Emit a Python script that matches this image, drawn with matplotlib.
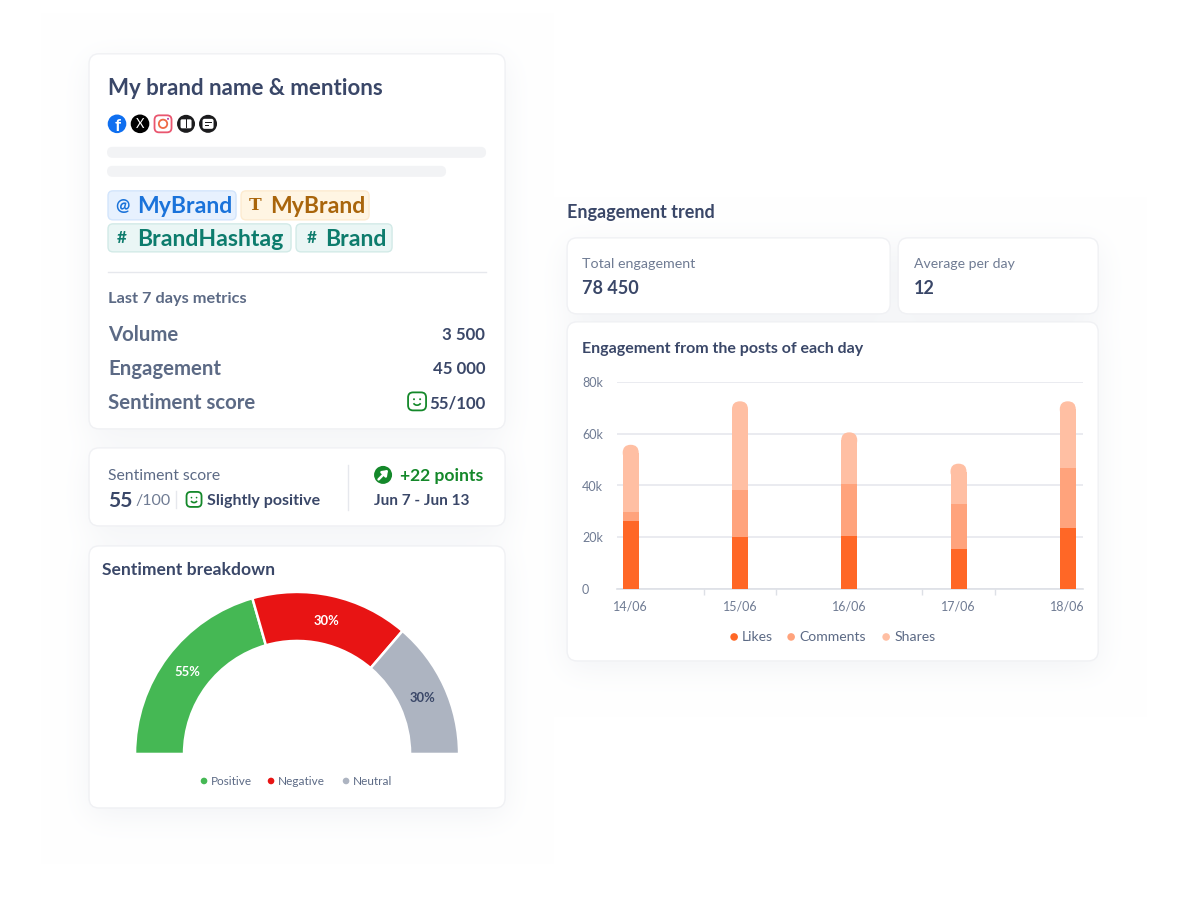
import numpy as np
import matplotlib
matplotlib.use("Agg")
import matplotlib.pyplot as plt
from matplotlib.patches import FancyBboxPatch, Wedge, Circle, Arc, Rectangle

# --- data ---
days = ["14/06", "15/06", "16/06", "17/06", "18/06"]
likes = [26.1, 20.0, 20.5, 15.6, 23.5]
comments = [3.6, 18.3, 20.1, 17.4, 23.1]
shares = [26.0, 34.2, 19.9, 15.4, 25.9]
y_ticks = [0, 20, 40, 60, 80]
y_labels = ["0", "20k", "40k", "60k", "80k"]

sent_names = ["Positive", "Negative", "Neutral"]
sent_arc = [74.0, 56.6, 49.4]  # degrees of the half circle
sent_labels = ["55%", "30%", "30%"]

metric_names = ["Volume", "Engagement", "Sentiment score"]
metric_values = ["3 500", "45 000", "55/100"]

NAVY = "#3A4768"
SLATE = "#5C6A85"
GREY = "#6F7B93"
LINE = "#E6E8ED"
ORANGES = ["#FF6726", "#FFA37C", "#FFBFA3"]
SENT_COLORS = ["#45B854", "#E81414", "#ADB4C1"]
GREEN = "#14882A"

W, H = 1200, 903
plt.rcParams["font.family"] = ["Lato", "DejaVu Sans"]
# the small extra keeps matplotlib from truncating to 902 px
fig = plt.figure(figsize=((W + 0.2) / 100, (H + 0.2) / 100), dpi=100, facecolor="white")

bg = fig.add_axes([0, 0, 1, 1], zorder=0)
bg.axis("off")


def px(size):
    return size * 72 / 100


def txt(x, y, s, size, color=NAVY, weight="normal", ha="left"):
    # Lato sits a little high when centred, hence the nudge
    bg.text(x, y + 1.2, s, fontsize=px(size), color=color, fontweight=weight, ha=ha, va="center", zorder=6)


def box(x0, y0, x1, y1, r, fc, ec="none", lw=1.0, alpha=None, z=3):
    p = FancyBboxPatch((x0, y0), x1 - x0, y1 - y0, boxstyle=f"round,pad=0,rounding_size={r}",
                       fc=fc, ec=ec, lw=lw, alpha=alpha, zorder=z)
    bg.add_patch(p)


def smiley(cx, cy, s):
    box(cx - s / 2, cy - s / 2, cx + s / 2, cy + s / 2, s * 0.28, "white", GREEN, 1.3, z=5)
    bg.add_patch(Circle((cx - s * 0.17, cy - s * 0.12), s * 0.055, fc=GREEN, ec="none", zorder=6))
    bg.add_patch(Circle((cx + s * 0.17, cy - s * 0.12), s * 0.055, fc=GREEN, ec="none", zorder=6))
    bg.add_patch(Arc((cx, cy + s * 0.03), s * 0.42, s * 0.36, theta1=20, theta2=160,
                     ec=GREEN, lw=1.2, zorder=6))


cards = [(89, 54, 505, 429), (89, 448, 505, 526), (89, 546, 505, 808),
         (567, 238, 890, 314), (898, 238, 1098, 314), (567, 322, 1098, 661)]

# soft shadow: blurred card mask, drawn as a very pale image
mask = np.zeros((H, W))
for c in cards:
    mask[c[1] + 8:c[3] + 8, c[0]:c[2]] = 1.0
kern = np.exp(-0.5 * (np.arange(-48, 49) / 16.0) ** 2)
kern /= kern.sum()
mask = np.apply_along_axis(lambda m: np.convolve(m, kern, mode="same"), 0, mask)
mask = np.apply_along_axis(lambda m: np.convolve(m, kern, mode="same"), 1, mask)
shade = np.ones((H, W, 3))
for i, amount in enumerate((0.052, 0.046, 0.036)):
    shade[:, :, i] -= mask * amount
bg.imshow(shade, extent=(0, W, H, 0), aspect="auto", zorder=1, interpolation="bilinear")
bg.set_xlim(0, W)
bg.set_ylim(H, 0)

for c in cards:
    box(c[0], c[1], c[2], c[3], 10, "white", "#F0F1F4", 1.0)

# --- brand card ---
txt(108, 87, "My brand name & mentions", 22.3, weight="bold")

bg.add_patch(Circle((117, 124), 9.3, fc="#0F6FF0", ec="none", zorder=5))
txt(118, 124.5, "f", 17, "white", "bold", "center")
bg.add_patch(Circle((140, 124), 9.3, fc="black", ec="none", zorder=5))
txt(140, 123, "X", 13, "white", "normal", "center")
box(154.5, 115.5, 171.5, 132.5, 4.5, "white", "#E9566F", 1.3, z=5)
bg.add_patch(Circle((163, 124), 4.2, fc="none", ec="#EE6A45", lw=1.3, zorder=6))
bg.add_patch(Circle((168, 119), 1, fc="#B43AA8", ec="none", zorder=6))
for cx in (186, 208):
    bg.add_patch(Circle((cx, 124), 9, fc="#1C1C1E", ec="none", zorder=5))
box(180.5, 119.5, 191.5, 128.5, 1.5, "white", z=6)
bg.add_patch(Rectangle((185.5, 119.5), 1, 9, fc="#1C1C1E", zorder=7))
box(202.5, 119, 213.5, 129, 2, "white", z=6)
bg.add_patch(Rectangle((204.5, 122), 7, 1.2, fc="#1C1C1E", zorder=7))
bg.add_patch(Rectangle((204.5, 125), 4.5, 1.2, fc="#1C1C1E", zorder=7))

box(107, 147, 486, 158, 5.5, "#F2F3F5")
box(107, 166, 446, 177, 5.5, "#F2F3F5")

pills = [(108, 191, 236, 220, "#E7F1FE", "#D3E5FC", "#1A73DA", "@", "MyBrand", 122, 137),
         (241, 191, 369, 220, "#FFF5E3", "#FDEBD0", "#A9650B", "T", "MyBrand", 255, 270),
         (108, 224, 291, 252, "#EAF6F5", "#D2EAE7", "#0D7C6D", "#", "BrandHashtag", 122, 137),
         (296, 224, 392, 252, "#EAF6F5", "#D2EAE7", "#0D7C6D", "#", "Brand", 312, 325)]
for x0, y0, x1, y1, fc, ec, col, sym, name, sx, tx in pills:
    box(x0, y0, x1, y1, 5, fc, ec, 1.0, z=4)
    yc = (y0 + y1) / 2
    bg.text(sx, yc, sym, fontsize=px(17), color=col, fontweight="bold", ha="center", va="center", zorder=6,
            family="DejaVu Serif" if sym == "T" else None)
    txt(tx, yc, name, 23, col, "bold")

bg.plot([108, 486], [272, 272], color=LINE, lw=1.0, zorder=5)
txt(108, 298, "Last 7 days metrics", 16.4, SLATE, "bold")
for y, name, val in zip([334, 368, 402], metric_names, metric_values):
    txt(108, y, name, 20.4, SLATE, "bold")
    txt(485, y, val, 16.8, NAVY, "bold", "right")
smiley(417, 401.5, 18)

# --- sentiment score card ---
txt(108, 475, "Sentiment score", 15.7, SLATE)
txt(108, 500, "55", 21, NAVY, "bold")
txt(135, 500, "/100", 16, GREY)
bg.plot([176, 176], [491, 508], color=LINE, lw=1, zorder=5)
smiley(194, 499.5, 15)
txt(207, 500, "Slightly positive", 16, NAVY, "bold")
bg.plot([347.5, 347.5], [465, 510], color=LINE, lw=1, zorder=5)
bg.add_patch(Circle((383, 475), 9, fc=GREEN, ec="none", zorder=5))
bg.annotate("", xy=(388, 470), xytext=(378.5, 479.5), zorder=6,
            arrowprops=dict(arrowstyle="-|>,head_width=0.22,head_length=0.3", color="white", lw=1.8,
                            shrinkA=0, shrinkB=0))
txt(400, 475, "+22 points", 17.5, GREEN, "bold")
txt(374, 500, "Jun 7 - Jun 13", 15.4, NAVY, "bold")

# --- gauge ---
txt(102, 569, "Sentiment breakdown", 17.5, NAVY, "bold")
cx, cy, r_out, r_in = 297, 754, 162, 113
gauge = fig.add_axes([(cx - r_out) / W, 1 - cy / H, 2 * r_out / W, r_out / H], zorder=2)
gauge.set_xlim(-1, 1)
gauge.set_ylim(0, 1)
gauge.axis("off")
theta = 180.0
for i, (val, col, lab) in enumerate(zip(sent_arc, SENT_COLORS, sent_labels)):
    gauge.add_patch(Wedge((0, 0), 1, theta - val, theta, width=1 - r_in / r_out, fc=col, ec="white", lw=1.8))
    mid = np.radians(theta - val / 2)
    rm = (1 + r_in / r_out) / 2
    gauge.text(rm * np.cos(mid), rm * np.sin(mid) - 0.006, lab, fontsize=px(13), fontweight="bold",
               color="white" if i < 2 else NAVY, ha="center", va="center")
    theta -= val

for dx, name, col in zip([204, 271, 346], sent_names, SENT_COLORS):
    bg.add_patch(Circle((dx, 781), 3.3, fc=col, ec="none", zorder=6))
    txt(dx + 7, 780, name, 11.8, SLATE)

# --- engagement side ---
txt(567, 211, "Engagement trend", 18, NAVY, "bold")
txt(582, 263, "Total engagement", 14.2, GREY)
txt(582, 287, "78 450", 18, NAVY, "bold")
txt(914, 263, "Average per day", 14, GREY)
txt(914, 287, "12", 18, NAVY, "bold")
txt(582, 348, "Engagement from the posts of each day", 16, NAVY, "bold")

# bar chart, axes placed on the pixel box of the plot
x0, x1, y_top, y_bot = 617, 1083, 382, 589
ax = fig.add_axes([x0 / W, 1 - y_bot / H, (x1 - x0) / W, (y_bot - y_top) / H], zorder=2)
ax.patch.set_alpha(0)
step = 109.25
ax.set_xlim((x0 - 630.6) / step, (x1 - 630.6) / step)
ax.set_ylim(0, 80)
pos = np.arange(len(days))
bar_w = 16 / step
likes_a, comments_a, shares_a = map(np.array, (likes, comments, shares))
ax.bar(pos, likes_a, bar_w, color=ORANGES[0], zorder=3)
ax.bar(pos, comments_a, bar_w, bottom=likes_a, color=ORANGES[1], zorder=3)
tops = ax.bar(pos, shares_a, bar_w, bottom=likes_a + comments_a, color=ORANGES[2], zorder=3)

# round the top of each stack: shorten the bar and cap it with a rounded patch
px_y = (y_bot - y_top) / 80
r_k = 8 / px_y
for rect in tops:
    top = rect.get_y() + rect.get_height()
    rect.set_height(rect.get_height() - r_k)
    ax.add_patch(FancyBboxPatch((rect.get_x(), top - 2 * r_k), bar_w, 2 * r_k,
                                boxstyle=f"round,pad=0,rounding_size={8 / step}",
                                mutation_aspect=step / px_y, fc=ORANGES[2], ec="none", zorder=3))

ax.set_yticks(y_ticks)
ax.set_yticklabels(y_labels, fontsize=px(12.5), color=GREY)
ax.tick_params(axis="y", length=0, pad=25.2)
for lab in ax.get_yticklabels():
    lab.set_ha("left")
ax.set_xticks(pos)
ax.set_xticklabels(days, fontsize=px(12.5), color=GREY)
ax.tick_params(axis="x", which="major", length=0, pad=8)
ax.set_xticks(np.arange(7) / 1.5, minor=True)
ax.tick_params(axis="x", which="minor", length=4, width=1, color="#DDE0E6")
ax.grid(axis="y", color=LINE, lw=1.2, zorder=0)
ax.set_axisbelow(True)
for name in ("top", "left", "right"):
    ax.spines[name].set_visible(False)
ax.spines["bottom"].set_color("#DDE0E6")
ax.spines["bottom"].set_linewidth(1.2)

for dx, name, col in zip([734, 791, 886], ["Likes", "Comments", "Shares"], ORANGES):
    bg.add_patch(Circle((dx, 637), 3.8, fc=col, ec="none", zorder=6))
    txt(dx + 8, 636, name, 14, SLATE)

fig.savefig("out.png", dpi=100, facecolor="white")
